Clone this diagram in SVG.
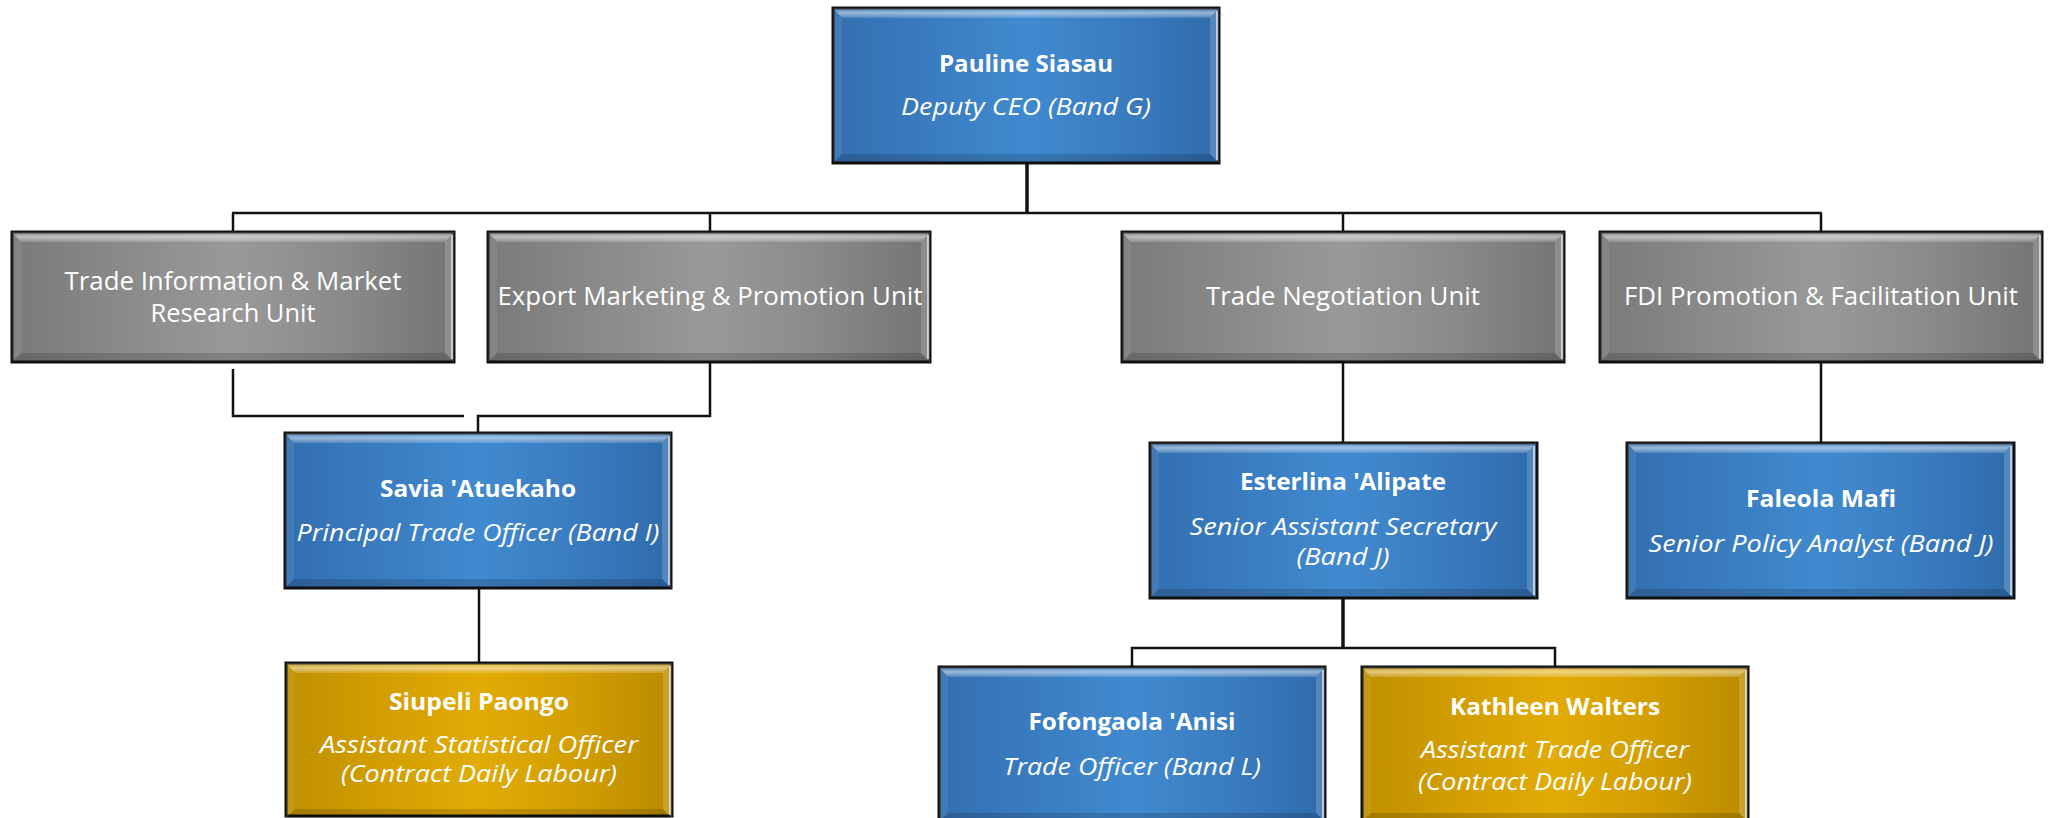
<svg xmlns="http://www.w3.org/2000/svg" xmlns:xlink="http://www.w3.org/1999/xlink" width="2051" height="818" viewBox="0 0 2051 818">
<style>
  .box { stroke: #111; stroke-width: 3; }
  .blue { fill: url(#gBlue); }
  .gray { fill: url(#gGray); }
  .gold { fill: url(#gGold); }
  .t { font-family: "Open Sans", "Liberation Sans", sans-serif; fill: #ffffff; text-anchor: middle; font-size: 23px; }
  .n { font-weight: bold; font-size: 24px; }
  .s { font-style: italic; }
  .u { font-size: 25px; }
  .conn { fill: none; stroke: #111; stroke-width: 2.5; }
  .trunk { stroke-width: 3.5; }
</style>
<defs>
  <linearGradient id="gBlue" x1="0" y1="0" x2="1" y2="0">
    <stop offset="0" stop-color="#336fb0"/>
    <stop offset="0.25" stop-color="#3a7cc0"/>
    <stop offset="0.5" stop-color="#418acf"/>
    <stop offset="0.75" stop-color="#3a7cc0"/>
    <stop offset="1" stop-color="#2f6bab"/>
  </linearGradient>
  <linearGradient id="gGray" x1="0" y1="0" x2="1" y2="0">
    <stop offset="0" stop-color="#7a7a7a"/>
    <stop offset="0.25" stop-color="#8a8a8a"/>
    <stop offset="0.5" stop-color="#999999"/>
    <stop offset="0.75" stop-color="#8a8a8a"/>
    <stop offset="1" stop-color="#747474"/>
  </linearGradient>
  <linearGradient id="gGold" x1="0" y1="0" x2="1" y2="0">
    <stop offset="0" stop-color="#c09000"/>
    <stop offset="0.25" stop-color="#d29e02"/>
    <stop offset="0.5" stop-color="#e2ab05"/>
    <stop offset="0.75" stop-color="#d29e02"/>
    <stop offset="1" stop-color="#bb8b00"/>
  </linearGradient>
  <linearGradient id="gTop" x1="0" y1="0" x2="0" y2="1">
    <stop offset="0" stop-color="#ffffff" stop-opacity="0.1"/>
    <stop offset="0.5" stop-color="#ffffff" stop-opacity="0.5"/>
    <stop offset="1" stop-color="#ffffff" stop-opacity="0.15"/>
  </linearGradient>
  <g id="bevP">
    <polygon points="0,0 386,0 377,10 9,10" fill="url(#gTop)"/>
    <polygon points="0,0 9,10 9,146 0,155" fill="#ffffff" fill-opacity="0.08"/>
    <polygon points="386,0 377,10 377,146 386,155" fill="#ffffff" fill-opacity="0.18"/>
    <line x1="384" y1="3" x2="384" y2="152" stroke="#ffffff" stroke-opacity="0.6" stroke-width="2"/>
    <polygon points="0,155 9,146 377,146 386,155" fill="#000000" fill-opacity="0.15"/>
  </g>
  <g id="bevU">
    <polygon points="0,0 442,0 433,10 9,10" fill="url(#gTop)"/>
    <polygon points="0,0 9,10 9,121 0,130" fill="#ffffff" fill-opacity="0.08"/>
    <polygon points="442,0 433,10 433,121 442,130" fill="#ffffff" fill-opacity="0.18"/>
    <line x1="440" y1="3" x2="440" y2="127" stroke="#ffffff" stroke-opacity="0.6" stroke-width="2"/>
    <polygon points="0,130 9,121 433,121 442,130" fill="#000000" fill-opacity="0.15"/>
  </g>
</defs>
<rect width="2051" height="818" fill="#ffffff"/>

<g id="connectors">
  <line class="conn trunk" x1="1027" y1="163" x2="1027" y2="213"/>
  <line class="conn" x1="232" y1="213" x2="1822" y2="213"/>
  <line class="conn" x1="233" y1="213" x2="233" y2="232"/>
  <line class="conn" x1="710" y1="213" x2="710" y2="232"/>
  <line class="conn" x1="1343" y1="213" x2="1343" y2="232"/>
  <line class="conn" x1="1821" y1="213" x2="1821" y2="232"/>
  <polyline class="conn" points="233,369 233,416 464,416"/>
  <polyline class="conn" points="710,362 710,416 478,416 478,433"/>
  <line class="conn" x1="479" y1="588" x2="479" y2="663"/>
  <line class="conn" x1="1343" y1="362" x2="1343" y2="443"/>
  <line class="conn" x1="1821" y1="362" x2="1821" y2="443"/>
  <line class="conn trunk" x1="1343" y1="598" x2="1343" y2="648"/>
  <polyline class="conn" points="1132,667 1132,648 1555,648 1555,667"/>
</g>

<g id="pauline" transform="translate(833,8)">
  <rect class="box blue" width="386" height="155"/>
  <use href="#bevP"/>
  <text class="t n" x="193" y="64" textLength="174" lengthAdjust="spacingAndGlyphs">Pauline Siasau</text>
  <text class="t s" x="193" y="107" textLength="250" lengthAdjust="spacingAndGlyphs">Deputy CEO (Band G)</text>
</g>

<g id="unit-trade-info" transform="translate(12,232)">
  <rect class="box gray" width="442" height="130"/>
  <use href="#bevU"/>
  <text class="t u" x="221" y="58" textLength="337" lengthAdjust="spacingAndGlyphs">Trade Information &amp; Market</text>
  <text class="t u" x="221" y="90" textLength="165" lengthAdjust="spacingAndGlyphs">Research Unit</text>
</g>

<g id="unit-export" transform="translate(488,232)">
  <rect class="box gray" width="442" height="130"/>
  <use href="#bevU"/>
  <text class="t u" x="222" y="73" textLength="425" lengthAdjust="spacingAndGlyphs">Export Marketing &amp; Promotion Unit</text>
</g>

<g id="unit-trade-neg" transform="translate(1122,232)">
  <rect class="box gray" width="442" height="130"/>
  <use href="#bevU"/>
  <text class="t u" x="221" y="73" textLength="274" lengthAdjust="spacingAndGlyphs">Trade Negotiation Unit</text>
</g>

<g id="unit-fdi" transform="translate(1600,232)">
  <rect class="box gray" width="442" height="130"/>
  <use href="#bevU"/>
  <text class="t u" x="221" y="73" textLength="394" lengthAdjust="spacingAndGlyphs">FDI Promotion &amp; Facilitation Unit</text>
</g>

<g id="savia" transform="translate(285,433)">
  <rect class="box blue" width="386" height="155"/>
  <use href="#bevP"/>
  <text class="t n" x="193" y="64" textLength="196" lengthAdjust="spacingAndGlyphs">Savia 'Atuekaho</text>
  <text class="t s" x="193" y="108" textLength="363" lengthAdjust="spacingAndGlyphs">Principal Trade Officer (Band I)</text>
</g>

<g id="siupeli" transform="translate(286,663)">
  <rect class="box gold" width="386" height="153"/>
  <use href="#bevP"/>
  <text class="t n" x="193" y="47" textLength="180" lengthAdjust="spacingAndGlyphs">Siupeli Paongo</text>
  <text class="t s" x="193" y="90" textLength="318" lengthAdjust="spacingAndGlyphs">Assistant Statistical Officer</text>
  <text class="t s" x="193" y="119" textLength="276" lengthAdjust="spacingAndGlyphs">(Contract Daily Labour)</text>
</g>

<g id="esterlina" transform="translate(1150,443)">
  <rect class="box blue" width="387" height="155"/>
  <use href="#bevP"/>
  <text class="t n" x="193" y="47" textLength="206" lengthAdjust="spacingAndGlyphs">Esterlina 'Alipate</text>
  <text class="t s" x="193" y="92" textLength="307" lengthAdjust="spacingAndGlyphs">Senior Assistant Secretary</text>
  <text class="t s" x="193" y="122" textLength="93" lengthAdjust="spacingAndGlyphs">(Band J)</text>
</g>

<g id="faleola" transform="translate(1627,443)">
  <rect class="box blue" width="387" height="155"/>
  <use href="#bevP"/>
  <text class="t n" x="194" y="64" textLength="150" lengthAdjust="spacingAndGlyphs">Faleola Mafi</text>
  <text class="t s" x="194" y="109" textLength="345" lengthAdjust="spacingAndGlyphs">Senior Policy Analyst (Band J)</text>
</g>

<g id="fofongaola" transform="translate(939,667)">
  <rect class="box blue" width="386" height="155"/>
  <use href="#bevP"/>
  <text class="t n" x="193" y="63" textLength="207" lengthAdjust="spacingAndGlyphs">Fofongaola 'Anisi</text>
  <text class="t s" x="193" y="108" textLength="258" lengthAdjust="spacingAndGlyphs">Trade Officer (Band L)</text>
</g>

<g id="kathleen" transform="translate(1362,667)">
  <rect class="box gold" width="386" height="155"/>
  <use href="#bevP"/>
  <text class="t n" x="193" y="48" textLength="210" lengthAdjust="spacingAndGlyphs">Kathleen Walters</text>
  <text class="t s" x="193" y="91" textLength="268" lengthAdjust="spacingAndGlyphs">Assistant Trade Officer</text>
  <text class="t s" x="193" y="123" textLength="274" lengthAdjust="spacingAndGlyphs">(Contract Daily Labour)</text>
</g>
</svg>
